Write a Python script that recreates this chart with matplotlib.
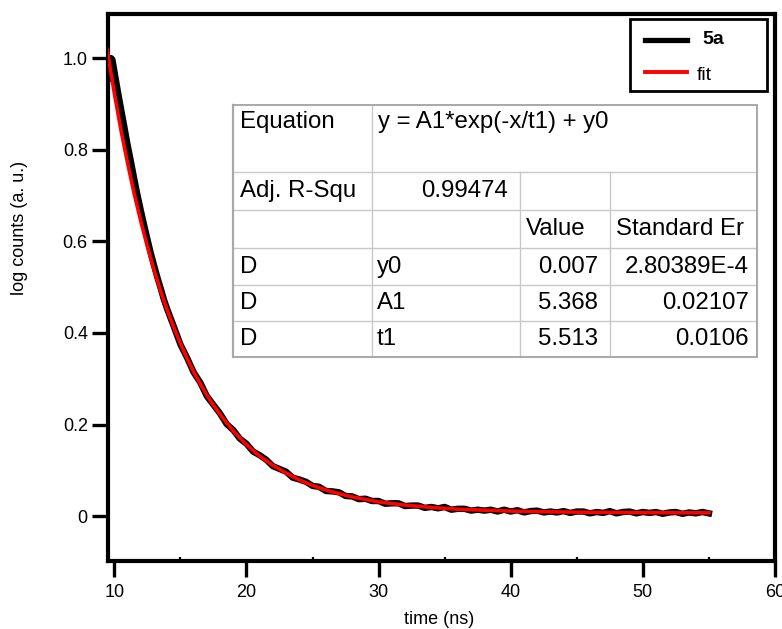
import matplotlib
matplotlib.use("Agg")
import matplotlib.pyplot as plt
from matplotlib.lines import Line2D
from matplotlib.patches import Rectangle

# ---------------- data ----------------
time_data = [9.55, 9.65, 9.75, 9.85, 10.0, 10.25, 10.5, 10.75, 11.0, 11.25, 11.5, 11.75,
             12.0, 12.25, 12.5, 12.75, 13.0, 13.25, 13.5, 13.75, 14.0,
             14.5, 15, 15.5, 16, 16.5, 17, 17.5, 18, 18.5, 19, 19.5, 20, 20.5, 21, 21.5,
             22, 22.5, 23, 23.5, 24, 24.5, 25, 25.5, 26, 26.5, 27, 27.5, 28, 28.5, 29, 29.5,
             30, 30.5, 31, 31.5, 32, 32.5, 33, 33.5, 34, 34.5, 35, 35.5, 36, 36.5, 37, 37.5,
             38, 38.5, 39, 39.5, 40, 40.5, 41, 41.5, 42, 42.5, 43, 43.5, 44, 44.5, 45, 45.5,
             46, 46.5, 47, 47.5, 48, 48.5, 49, 49.5, 50, 50.5, 51, 51.5, 52, 52.5, 53, 53.5,
             54, 54.5, 55]
counts_data = [0.955, 0.985, 1.000, 0.997, 0.972, 0.930, 0.890, 0.851, 0.811, 0.775, 0.737, 0.701,
               0.668, 0.636, 0.605, 0.575, 0.548, 0.522, 0.498, 0.473, 0.452,
               0.414, 0.375, 0.346, 0.314, 0.292, 0.262, 0.243, 0.224, 0.201, 0.188, 0.169, 0.158,
               0.141, 0.133, 0.123, 0.109, 0.103, 0.097, 0.084, 0.080, 0.075, 0.066, 0.064, 0.055,
               0.054, 0.052, 0.044, 0.043, 0.037, 0.038, 0.033, 0.033, 0.027, 0.028, 0.028, 0.022,
               0.023, 0.023, 0.018, 0.020, 0.017, 0.020, 0.014, 0.016, 0.016, 0.012, 0.014, 0.012,
               0.014, 0.010, 0.014, 0.010, 0.013, 0.008, 0.011, 0.012, 0.008, 0.010, 0.008, 0.011,
               0.007, 0.010, 0.010, 0.006, 0.009, 0.007, 0.011, 0.006, 0.009, 0.010, 0.006, 0.009,
               0.007, 0.009, 0.005, 0.008, 0.009, 0.005, 0.008, 0.006, 0.009, 0.006]

time_fit = [9.45, 10, 10.5, 11, 11.5, 12, 12.5, 13, 13.5, 14, 14.5, 15, 15.5, 16, 16.5, 17,
            17.5, 18, 19, 20, 21, 22, 23, 24, 25, 26, 27, 28, 30, 32, 34, 36, 38, 40, 43,
            46, 50, 55]
counts_fit = [1.019, 0.923, 0.843, 0.771, 0.704, 0.644, 0.589, 0.538, 0.492, 0.450, 0.412,
              0.377, 0.345, 0.315, 0.289, 0.264, 0.242, 0.222, 0.186, 0.156, 0.131, 0.111,
              0.094, 0.079, 0.067, 0.057, 0.049, 0.042, 0.031, 0.024, 0.019, 0.015, 0.013,
              0.011, 0.0093, 0.0084, 0.0076, 0.0072]

x_ticks = [10, 20, 30, 40, 50, 60]
x_minor = [15, 25, 35, 45, 55]
y_ticks = [0, 0.2, 0.4, 0.6, 0.8, 1.0]
y_tick_labels = ["0", "0.2", "0.4", "0.6", "0.8", "1.0"]
x_label = "time (ns)"
y_label = "log counts (a. u.)"
legend_labels = ["5a", "fit"]

eq_label = "Equation"
eq_text = "y = A1*exp(-x/t1) + y0"
r2_label = "Adj. R-Squ"
r2_value = "0.99474"
col_headers = ["Value", "Standard Er"]
param_group = ["D", "D", "D"]
param_names = ["y0", "A1", "t1"]
param_values = ["0.007", "5.368", "5.513"]
param_errors = ["2.80389E-4", "0.02107", "0.0106"]

# ---------------- layout ----------------
plt.rcParams["font.family"] = ["Liberation Sans", "DejaVu Sans"]
W, H = 782, 629
fig = plt.figure(figsize=(W / 100, H / 100), dpi=100)


def fx(px):
    return px / W


def fy(py):
    return 1 - py / H


ax_l, ax_r, ax_t, ax_b = 108, 775, 13.7, 561
ax = fig.add_axes([fx(ax_l), fy(ax_b), fx(ax_r) - fx(ax_l), fy(ax_t) - fy(ax_b)])

ax.plot(time_data, counts_data, color="black", lw=4.6, zorder=2)
ax.plot(time_fit, counts_fit, color="red", lw=2.6, zorder=3)

ax.set_xlim(9.52, 60)
ax.set_ylim(-0.098, 1.097)
ax.set_xticks(x_ticks)
ax.set_xticks(x_minor, minor=True)
ax.set_yticks(y_ticks)
ax.set_yticklabels(y_tick_labels)
for s in ax.spines.values():
    s.set_linewidth(3)
ax.tick_params(axis="both", which="major", direction="out", length=11.5, width=2.4,
               labelsize=13, color="black")
ax.tick_params(axis="x", which="major", pad=5)
ax.tick_params(axis="y", which="major", pad=3)
ax.tick_params(axis="x", which="minor", direction="in", length=3, width=1.6)

fig.text(fx(439), fy(620), x_label, fontsize=13, ha="center", va="center")
fig.text(fx(20), fy(228), y_label, fontsize=13, ha="center", va="center", rotation=90)

# ---------------- legend ----------------
fig.add_artist(Rectangle((fx(630), fy(91)), fx(767) - fx(630), fy(19) - fy(91),
                         transform=fig.transFigure, fill=True, facecolor="white",
                         edgecolor="black", lw=2, zorder=5))
fig.add_artist(Line2D([fx(645), fx(687)], [fy(40), fy(40)], transform=fig.transFigure,
                      color="black", lw=3.8, zorder=6))
fig.add_artist(Line2D([fx(645), fx(687)], [fy(72), fy(72)], transform=fig.transFigure,
                      color="red", lw=2.8, zorder=6))
fig.text(fx(702), fy(39), legend_labels[0], fontsize=14, fontweight="bold",
         ha="left", va="center", zorder=7)
fig.text(fx(697), fy(75), legend_labels[1], fontsize=14, ha="left", va="center", zorder=7)

# ---------------- table ----------------
cols = [233, 372, 520, 610, 757]
rows = [105, 172, 210, 248, 285, 321, 357]
grid_c = "#c8c8c8"
fig.add_artist(Rectangle((fx(cols[0]), fy(rows[-1])), fx(cols[-1]) - fx(cols[0]),
                         fy(rows[0]) - fy(rows[-1]), transform=fig.transFigure,
                         facecolor="white", edgecolor="none", zorder=4))


def hline(y, x0, x1, c=grid_c, lw=1.0):
    fig.add_artist(Line2D([fx(x0), fx(x1)], [fy(y), fy(y)], transform=fig.transFigure,
                          color=c, lw=lw, zorder=5))


def vline(x, y0, y1, c=grid_c, lw=1.0):
    fig.add_artist(Line2D([fx(x), fx(x)], [fy(y0), fy(y1)], transform=fig.transFigure,
                          color=c, lw=lw, zorder=5))


for r in rows[1:-1]:
    hline(r, cols[0], cols[-1])
vline(cols[1], rows[0], rows[-1])
vline(cols[2], rows[1], rows[-1])
vline(cols[3], rows[1], rows[-1])
# outer border
hline(rows[0], cols[0], cols[-1], c="#a8a8a8", lw=1.4)
hline(rows[-1], cols[0], cols[-1], c="#a8a8a8", lw=1.4)
vline(cols[0], rows[0], rows[-1], c="#a8a8a8", lw=1.6)
vline(cols[-1], rows[0], rows[-1], c="#a8a8a8", lw=1.4)

tfs = 17.3


def cell_text(x, y, s, ha="left"):
    fig.text(fx(x), fy(y), s, fontsize=tfs, ha=ha, va="center", zorder=7)


cell_text(cols[0] + 7, 122, eq_label)
cell_text(cols[1] + 6, 122, eq_text)
cell_text(cols[0] + 7, 191, r2_label)
cell_text(cols[2] - 12, 191, r2_value, ha="right")
cell_text(cols[2] + 6, 229, col_headers[0])
cell_text(cols[3] + 6, 229, col_headers[1])
for i in range(3):
    yc = (rows[3 + i] + rows[4 + i]) / 2
    cell_text(cols[0] + 7, yc, param_group[i])
    cell_text(cols[1] + 5, yc, param_names[i])
    cell_text(cols[3] - 12, yc, param_values[i], ha="right")
    cell_text(cols[4] - 8, yc, param_errors[i], ha="right")

fig.savefig("out.png", dpi=100)
